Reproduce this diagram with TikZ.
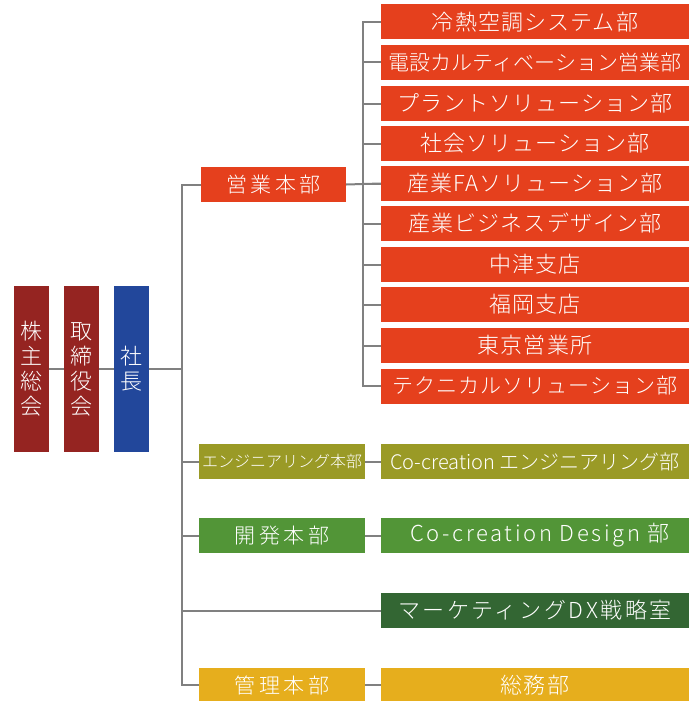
\documentclass[tikz,border=0pt]{standalone}
\usepackage{fontspec}
\newfontfamily\jp{Noto Sans CJK JP Light}
\newfontfamily\jpa[LetterSpace=5]{Noto Sans CJK JP Light}
\newfontfamily\jpb[LetterSpace=12]{Noto Sans CJK JP Light}
\newfontfamily\jpc[LetterSpace=16]{Noto Sans CJK JP Light}
\definecolor{cdred}{HTML}{952421}
\definecolor{cblue}{HTML}{22479B}
\definecolor{corange}{HTML}{E5401D}
\definecolor{colive}{HTML}{9A9A26}
\definecolor{cgreen}{HTML}{529537}
\definecolor{cdgreen}{HTML}{336633}
\definecolor{cyellow}{HTML}{E6AE1D}
\definecolor{cline}{HTML}{808080}
\tikzset{
  box/.style={rectangle, inner sep=0pt, text=white, font=\jpa\fontsize{22}{22}\selectfont, anchor=center},
  vbox/.style={box, minimum width=35pt, minimum height=166pt, align=center, font=\jp\fontsize{22}{25}\selectfont},
  midbox/.style={box, minimum width=145pt, minimum height=35pt, font=\jpc\fontsize{21}{21}\selectfont},
  lowbox/.style={box, minimum width=166pt, minimum height=35pt, font=\jpc\fontsize{21}{21}\selectfont},
  rbox/.style={box, minimum width=308pt, minimum height=35pt, fill=corange},
  conn/.style={draw=cline, line width=2pt}
}
\begin{document}
\begin{tikzpicture}[x=1pt,y=-1pt]
\useasboundingbox (0,0) rectangle (689,701);
% left column
\node[vbox, fill=cdred] (kabu) at (31.5,369) {株\\主\\総\\会};
\node[vbox, fill=cdred] (tori) at (81.5,369) {取\\締\\役\\会};
\node[vbox, fill=cblue] (sha) at (131.5,369) {社\\長};
% middle
\node[midbox, fill=corange] (eig) at (273.5,184.5) {営業本部};
\node[lowbox, fill=colive, font=\jp\fontsize{16}{16}\selectfont] (eng) at (282,461.5) {エンジニアリング本部};
\node[lowbox, fill=cgreen] (kai) at (282,535.5) {開発本部};
\node[lowbox, fill=cyellow, minimum height=34pt] (kan) at (282,685) {管理本部};
% right
\node[rbox] (r1) at (535,22) {冷熱空調システム部};
\node[rbox, font=\jp\fontsize{21}{21}\selectfont] (r2) at (535,62.5) {電設カルティベーション営業部};
\node[rbox] (r3) at (535,103.5) {プラントソリューション部};
\node[rbox] (r4) at (535,143.5) {社会ソリューション部};
\node[rbox] (r5) at (535,183.5) {産業FAソリューション部};
\node[rbox] (r6) at (535,223.5) {産業ビジネスデザイン部};
\node[rbox] (r7) at (535,264.5) {中津支店};
\node[rbox] (r8) at (535,304.5) {福岡支店};
\node[rbox] (r9) at (535,345.5) {東京営業所};
\node[rbox, font=\jpa\fontsize{21}{21}\selectfont] (r10) at (535,386) {テクニカルソリューション部};
\node[rbox, fill=colive, font=\jp\fontsize{20}{20}\selectfont] (s1) at (535,461.5) {Co-creation エンジニアリング部};
\node[rbox, fill=cgreen, font=\jpb\fontsize{22}{22}\selectfont] (s2) at (535,535.5) {\hspace{10pt}Co-creation Design 部};
\node[rbox, fill=cdgreen, font=\jpb\fontsize{22}{22}\selectfont] (s3) at (535,610.5) {マーケティングDX戦略室};
\node[rbox, fill=cyellow, minimum height=34pt] (s4) at (535,685) {総務部};
% connectors
\coordinate (tb) at (182,685);
\coordinate (rt) at (363,22);
\draw[conn] (kabu) -- (tori);
\draw[conn] (tori) -- (sha);
\draw[conn] (sha.east) -- (sha.east -| tb);
\draw[conn] (eig.west) -| (tb) -- (kan.west);
\draw[conn] (eng.west) -- (eng.west -| tb);
\draw[conn] (kai.west) -- (kai.west -| tb);
\draw[conn] (s3.west) -- (s3.west -| tb);
\draw[conn] (r1.west) -- (rt) -- (rt |- r10.west) -- (r10.west);
\foreach \n in {r2,r3,r4,r5,r6,r7,r8,r9} \draw[conn] (\n.west) -- (\n.west -| rt);
\draw[conn] (eig.east) -- (r5.west);
\draw[conn] (eng) -- (s1);
\draw[conn] (kai) -- (s2);
\draw[conn] (kan) -- (s4);
\end{tikzpicture}
\end{document}
